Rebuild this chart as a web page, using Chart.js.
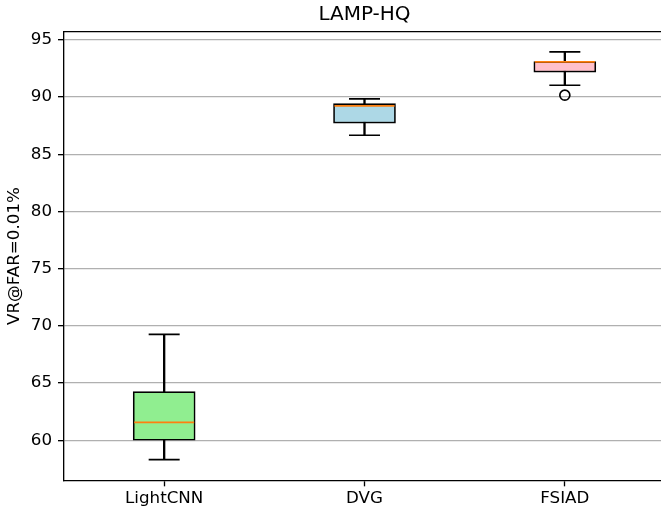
<!DOCTYPE html>
<html>
<head>
<meta charset="utf-8">
<script src="https://cdn.jsdelivr.net/npm/chart.js@4/dist/chart.umd.min.js"></script>
<style>
    html, body { margin: 0; padding: 0; overflow: hidden; background: #fff; }
    canvas { display: block; }
</style>
</head>
<body>
<canvas id="boxChart" width="729" height="512"></canvas>
<script>
const categories = ['LightCNN', 'DVG', 'FSIAD'];
const whiskerLow = [58.31, 86.67, 91.04];
const q1 = [60.0, 87.72, 92.18];
const medians = [61.57, 89.24, 93.08];
const q3 = [64.25, 89.44, 93.1];
const whiskerHigh = [69.26, 89.85, 93.95];
const outliers = [null, null, 90.17];
const boxColors = ['#90ee90', '#add8e6', '#ffc0cb'];
const yTicks = [60, 65, 70, 75, 80, 85, 90, 95];

const font = { family: 'DejaVu Sans', size: 16.7 };

// top spine like matplotlib
const frame = {
    id: 'frame',
    afterDraw(chart) {
        const { ctx, chartArea } = chart;
        ctx.save();
        ctx.strokeStyle = '#000';
        ctx.lineWidth = 1.33;
        ctx.beginPath();
        ctx.moveTo(chartArea.left, chartArea.top);
        ctx.lineTo(chartArea.right, chartArea.top);
        ctx.stroke();
        ctx.restore();
    }
};

function createBoxChart() {
    new Chart(document.getElementById('boxChart'), {
        type: 'bar',
        data: {
            labels: categories,
            datasets: [{
                label: 'whisker',
                data: whiskerLow.map((v, i) => [v, whiskerHigh[i]]),
                backgroundColor: '#000',
                barThickness: 1.67,
                grouped: false,
                order: 4
            }, {
                label: 'box',
                data: q1.map((v, i) => [v, q3[i]]),
                backgroundColor: boxColors,
                borderColor: '#000',
                borderWidth: 1.67,
                borderSkipped: false,
                barThickness: 62,
                grouped: false,
                order: 3
            }, {
                type: 'line',
                label: 'capLow',
                data: whiskerLow,
                showLine: false,
                pointStyle: 'line',
                pointRadius: 15.5,
                pointBorderColor: '#000',
                pointBorderWidth: 1.67,
                order: 2
            }, {
                type: 'line',
                label: 'capHigh',
                data: whiskerHigh,
                showLine: false,
                pointStyle: 'line',
                pointRadius: 15.5,
                pointBorderColor: '#000',
                pointBorderWidth: 1.67,
                order: 2
            }, {
                type: 'line',
                label: 'median',
                data: medians,
                showLine: false,
                pointStyle: 'line',
                pointRadius: 30,
                pointBorderColor: '#ff7f0e',
                pointBorderWidth: 1.67,
                order: 1
            }, {
                type: 'line',
                label: 'outlier',
                data: outliers,
                showLine: false,
                pointStyle: 'circle',
                pointRadius: 5,
                pointBackgroundColor: 'rgba(0,0,0,0)',
                pointBorderColor: '#000',
                pointBorderWidth: 1.67,
                order: 1
            }]
        },
        options: {
            responsive: false,
            animation: false,
            devicePixelRatio: 1,
            layout: { padding: { left: 0, right: 64, top: 0, bottom: 0 } },
            plugins: {
                legend: { display: false },
                tooltip: { enabled: false },
                title: {
                    display: true,
                    fullSize: false,
                    text: 'LAMP-HQ',
                    color: '#000',
                    font: { family: 'DejaVu Sans', size: 20, weight: 'normal', lineHeight: 1.2 },
                    padding: { top: 3, bottom: 4.7 }
                }
            },
            scales: {
                x: {
                    grid: {
                        drawOnChartArea: false,
                        offset: false,
                        tickLength: 6,
                        tickColor: '#000',
                        tickWidth: 1.33
                    },
                    border: { color: '#000', width: 1.33 },
                    ticks: { color: '#000', font: font, padding: 2 },
                    afterFit(scale) {
                        scale.height = 31.3;
                        scale.paddingLeft = 0;
                        scale.paddingRight = 0;
                    }
                },
                y: {
                    min: 56.5,
                    max: 95.72,
                    afterBuildTicks(scale) {
                        scale.ticks = yTicks.map(v => ({ value: v }));
                    },
                    grid: {
                        color: '#b0b0b0',
                        lineWidth: 1.33,
                        tickLength: 6,
                        tickColor: '#000',
                        tickWidth: 1.33
                    },
                    border: { color: '#000', width: 1.33 },
                    ticks: { color: '#000', font: font, padding: 6 },
                    title: {
                        display: true,
                        text: 'VR@FAR=0.01%',
                        color: '#000',
                        font: { family: 'DejaVu Sans', size: 16.7, lineHeight: 1.2 },
                        padding: { top: 5, bottom: 0 }
                    },
                    afterFit(scale) { scale.width = 64; }
                }
            }
        },
        plugins: [frame]
    });
}

createBoxChart();
</script>
</body>
</html>
